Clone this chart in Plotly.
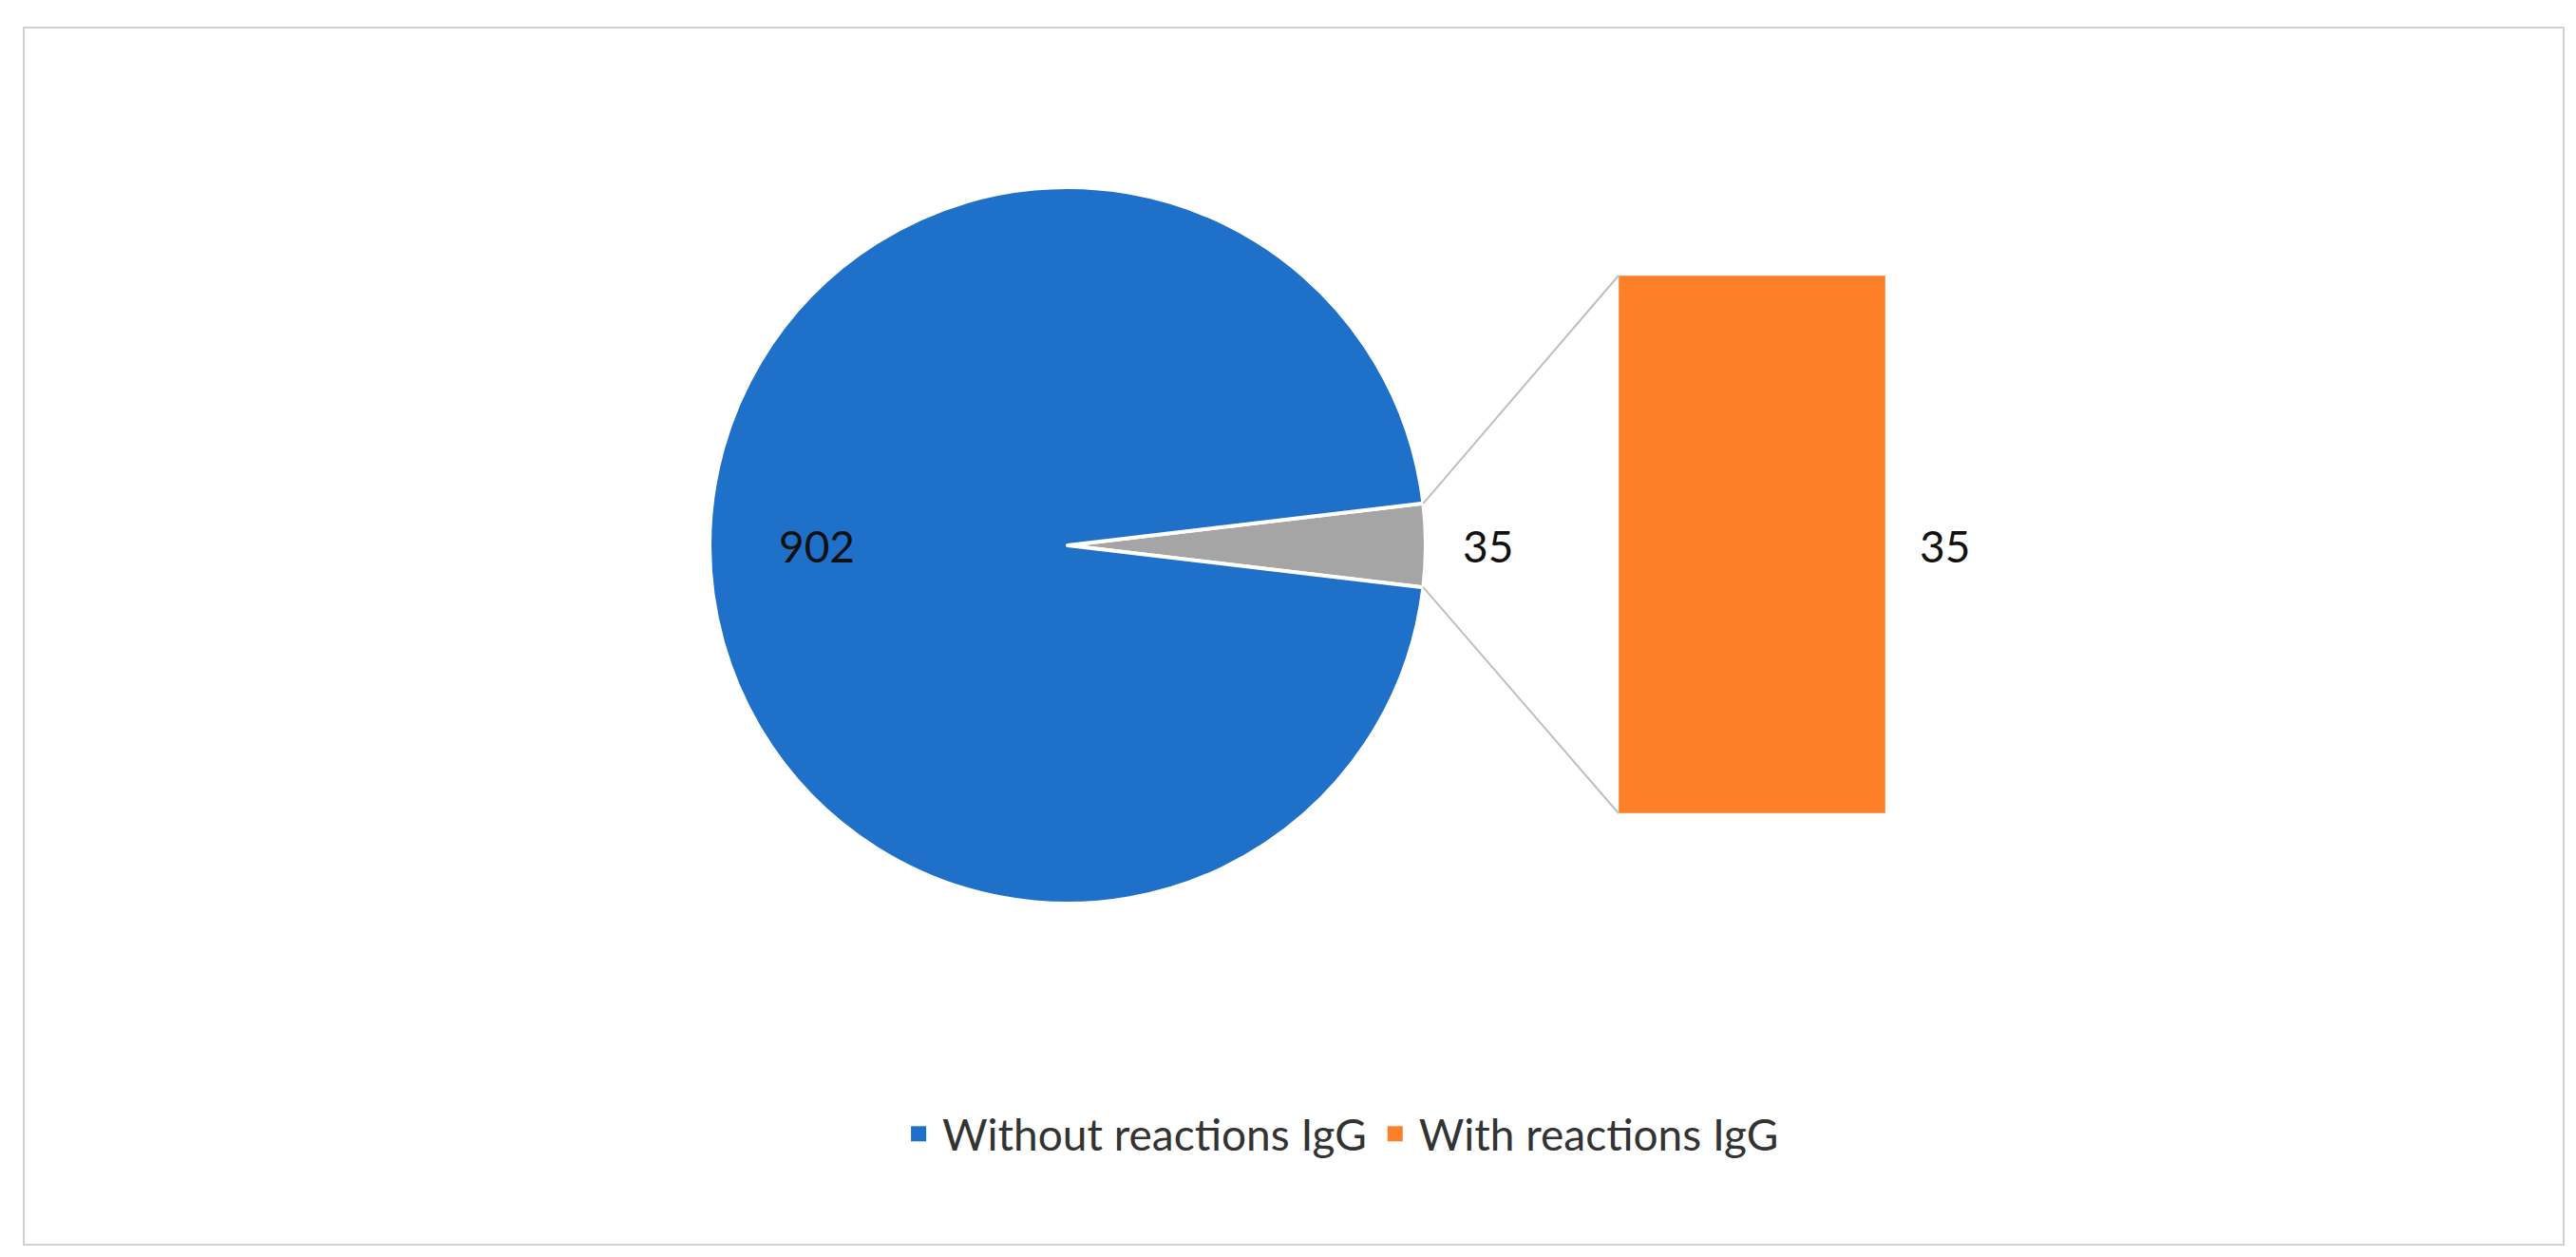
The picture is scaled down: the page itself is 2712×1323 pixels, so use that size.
import plotly.graph_objects as go
import math

pie_labels = ["With reactions IgG", "Without reactions IgG"]
pie_values = [35, 902]
bar_labels = ["With reactions IgG"]
bar_values = [35]

W, H = 2712, 1323
BLUE, GRAY, ORANGE = "#1f70c8", "#a5a5a5", "#fd7f28"
FONT = "Lato"

def px(x): return x / W
def py(y): return 1 - y / H

cx, cy, r = 1116, 566, 377
total = sum(pie_values)
gray_deg = 360 * pie_values[0] / total
half = math.radians(gray_deg / 2)

fig = go.Figure()
fig.add_trace(go.Pie(
    labels=pie_labels, values=pie_values, sort=False, direction="clockwise",
    rotation=90 - gray_deg / 2, marker=dict(colors=[GRAY, BLUE], line=dict(color="white", width=4)),
    textinfo="none", showlegend=False, hoverinfo="label+value",
    domain=dict(x=[px(cx - r), px(cx + r)], y=[py(cy + r), py(cy - r)]),
))
fig.add_trace(go.Bar(x=[0], y=bar_values, width=1, marker=dict(color=ORANGE),
                     showlegend=False, xaxis="x", yaxis="y", name=bar_labels[0]))
# legend entries
fig.add_trace(go.Scatter(x=[None], y=[None], mode="markers", name=pie_labels[1],
                         marker=dict(symbol="square", color=BLUE, size=20)))
fig.add_trace(go.Scatter(x=[None], y=[None], mode="markers", name=pie_labels[0],
                         marker=dict(symbol="square", color=ORANGE, size=20)))

bx0, bx1, by0, by1 = 1696, 1977, 282, 848
fig.update_layout(
    width=W, height=H, margin=dict(l=0, r=0, t=0, b=0),
    paper_bgcolor="white", plot_bgcolor="white",
    font=dict(family=FONT, size=46, color="#111"),
    xaxis=dict(domain=[px(bx0), px(bx1)], range=[-0.5, 0.5], visible=False),
    yaxis=dict(domain=[py(by1), py(by0)], range=[0, bar_values[0]], visible=False),
    legend=dict(orientation="h", x=0.517, xanchor="center", y=0.104, yanchor="middle",
                font=dict(size=46, color="#333"), itemwidth=40, tracegroupgap=0),
    showlegend=True,
)
ex = cx + r * math.cos(half)
ey_top = cy - r * math.sin(half)
ey_bot = cy + r * math.sin(half)
line = dict(color="#bfbfbf", width=2)
fig.add_shape(type="line", xref="paper", yref="paper", x0=px(ex), y0=py(ey_top), x1=px(bx0), y1=py(by0), line=line)
fig.add_shape(type="line", xref="paper", yref="paper", x0=px(ex), y0=py(ey_bot), x1=px(bx0), y1=py(by1), line=line)
fig.add_shape(type="rect", xref="paper", yref="paper", x0=px(17), y0=py(1302), x1=px(2691), y1=py(21),
              line=dict(color="#d0d0d0", width=2))

fig.add_annotation(x=px(810), y=py(566), xref="paper", yref="paper", text=str(pie_values[1]), showarrow=False)
fig.add_annotation(x=px(1558), y=py(566), xref="paper", yref="paper", text=str(pie_values[0]), showarrow=False)
fig.add_annotation(x=px(2068), y=py(566), xref="paper", yref="paper", text=str(bar_values[0]), showarrow=False)

fig.write_html("out.html")
